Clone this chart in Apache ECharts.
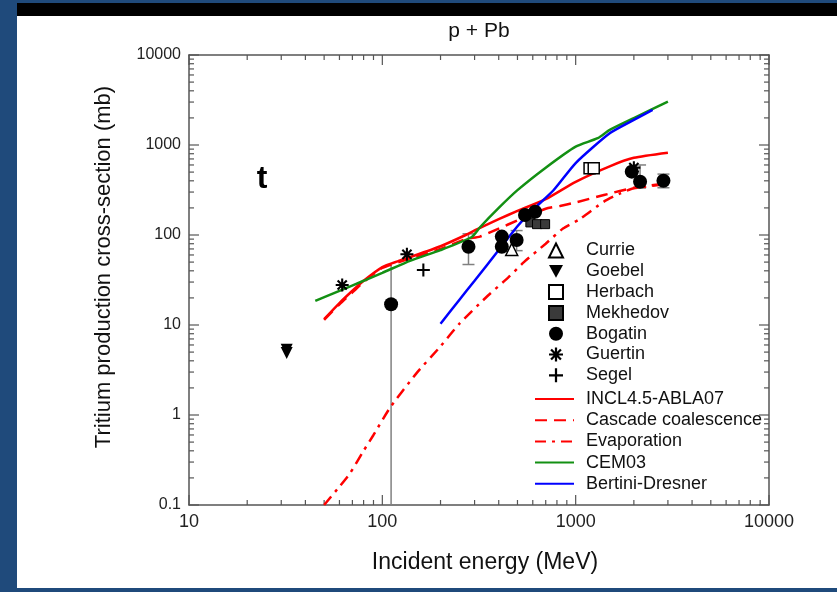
<!DOCTYPE html>
<html>
<head>
<meta charset="utf-8">
<script src="https://cdn.jsdelivr.net/npm/echarts@6/dist/echarts.min.js"></script>
<style>
  html, body { margin: 0; padding: 0; }
  #chart { width: 837px; height: 592px; }
</style>
</head>
<body>
<div id="chart"></div>
<script>
// measured points (energy in MeV, cross-section in mb)
const currieE = [467]
const currieV = [69]
const goebelE = [32, 32]
const goebelV = [5.3, 4.9]
const herbachE = [1180, 1240]
const herbachV = [550, 550]
const mekhedovE = [583, 631, 695]
const mekhedovV = [138, 132, 132]
const bogatinE = [111, 279, 415, 415, 495, 547, 617, 1950, 2153, 2845]
const bogatinV = [17, 74, 96, 74, 88, 167, 181, 506, 391, 401]
const guertinE = [62, 134, 2000]
const guertinV = [27.8, 61, 560]
const segelE = [163]
const segelV = [40.8]

// error bars
const errE = [111, 279, 495, 2153, 2845]
const errLo = [0.1, 47, 67, 333, 335]
const errHi = [47, 103, 112, 600, 475]
const errCap = [0, 1, 1, 1, 1]

// model curves
const inclE = [50, 60, 70, 80, 100, 120, 140, 200, 270, 310, 400, 500, 700, 1000, 1500, 2000, 3000]
const inclV = [11.6, 17.5, 24, 31, 44, 51, 57, 75, 100, 116, 150, 185, 250, 390, 580, 720, 820]
const cascE = [50, 60, 70, 80, 100, 140, 200, 270, 320, 400, 500, 700, 830, 1000, 1400, 2000, 3000]
const cascV = [11.4, 17, 23, 30, 43, 55, 70, 90, 96, 118, 145, 196, 210, 230, 278, 335, 375]
const evapE = [50, 60, 68, 80, 90, 110, 150, 200, 250, 350, 450, 540, 700, 860, 1050, 1400, 1700, 2000, 3000]
const evapV = [0.1, 0.16, 0.225, 0.4, 0.6, 1.22, 2.9, 5.8, 10.3, 21, 34, 50, 80, 118, 150, 235, 290, 330, 370]
const cemE = [45, 60, 80, 100, 140, 200, 290, 320, 400, 500, 700, 1000, 1300, 1500, 2000, 3000]
const cemV = [18.5, 24, 31, 38, 52, 68, 95, 122, 200, 315, 560, 960, 1190, 1470, 1990, 3030]
const bertE = [200, 250, 300, 400, 500, 600, 770, 1000, 1500, 2000, 2500]
const bertV = [10.3, 19, 31, 68, 125, 190, 316, 630, 1350, 1900, 2450]

// tick values
const xMajor = [10, 100, 1000, 10000]
const xMinor = [20, 30, 40, 50, 60, 70, 80, 90, 200, 300, 400, 500, 600, 700, 800, 900, 2000, 3000, 4000, 5000, 6000, 7000, 8000, 9000]
const yMajor = [0.1, 1, 10, 100, 1000, 10000]
const yMinor = [0.2, 0.3, 0.4, 0.5, 0.6, 0.7, 0.8, 0.9, 2, 3, 4, 5, 6, 7, 8, 9, 20, 30, 40, 50, 60, 70, 80, 90,
	200, 300, 400, 500, 600, 700, 800, 900, 2000, 3000, 4000, 5000, 6000, 7000, 8000, 9000]

const pairs = (xs, ys) => xs.map((x, i) => [x, ys[i]])

const FONT = '"Liberation Sans", Arial, sans-serif'
const AXIS = '#555'
const asterisk = 'path://M-1.6,-10L1.6,-10L1.6,10L-1.6,10Z M-10,-1.6L10,-1.6L10,1.6L-10,1.6Z M-5.9,-8.2L8.2,5.9L5.9,8.2L-8.2,-5.9Z M5.9,-8.2L8.2,-5.9L-5.9,8.2L-8.2,5.9Z'
const plus = 'path://M-1.6,-10L1.6,-10L1.6,-1.6L10,-1.6L10,1.6L1.6,1.6L1.6,10L-1.6,10L-1.6,1.6L-10,1.6L-10,-1.6L-1.6,-1.6Z'
const downTri = 'path://M-6,-5L6,-5L0,6Z'

let chart = echarts.init(document.getElementById('chart'))

function axisBase(pos, showLabel, size) {
	return {
		type: 'log',
		logBase: 10,
		position: pos,
		axisLine: { show: true, lineStyle: { color: AXIS, width: 1.5 } },
		axisTick: { show: false },
		axisLabel: {
			show: showLabel,
			fontSize: size || 16,
			color: '#222',
			fontFamily: FONT,
			margin: 8,
			formatter: v => String(v),
		},
		splitLine: { show: false },
	}
}

function scatter(name, xs, ys, symbol, size, style) {
	return {
		name: name,
		type: 'scatter',
		symbol: symbol,
		symbolSize: size,
		itemStyle: Object.assign({ opacity: 1 }, style),
		data: pairs(xs, ys),
		z: 5,
	}
}

function curve(name, xs, ys, color, type) {
	return {
		name: name,
		type: 'line',
		symbol: 'none',
		smooth: 0.2,
		lineStyle: { color: color, width: 2.5, type: type },
		itemStyle: { color: color },
		data: pairs(xs, ys),
		z: 4,
	}
}

// tick marks drawn inside the frame on all four sides
function xTicks(values, len) {
	return {
		type: 'custom',
		silent: true,
		z: 1,
		data: values.map(v => [v, 1]),
		renderItem: function (params, api) {
			let cs = params.coordSys
			let x = api.coord([api.value(0), 1])[0]
			let st = { stroke: AXIS, lineWidth: 1.2 }
			return {
				type: 'group',
				children: [
					{ type: 'line', shape: { x1: x, y1: cs.y + cs.height, x2: x, y2: cs.y + cs.height - len }, style: st },
					{ type: 'line', shape: { x1: x, y1: cs.y, x2: x, y2: cs.y + len }, style: st },
				],
			}
		},
	}
}

function yTicks(values, len) {
	return {
		type: 'custom',
		silent: true,
		z: 1,
		data: values.map(v => [100, v]),
		renderItem: function (params, api) {
			let cs = params.coordSys
			let y = api.coord([100, api.value(1)])[1]
			let st = { stroke: AXIS, lineWidth: 1.2 }
			return {
				type: 'group',
				children: [
					{ type: 'line', shape: { x1: cs.x, y1: y, x2: cs.x + len, y2: y }, style: st },
					{ type: 'line', shape: { x1: cs.x + cs.width, y1: y, x2: cs.x + cs.width - len, y2: y }, style: st },
				],
			}
		},
	}
}

let option = {
	backgroundColor: '#1f4a7b',
	animation: false,
	grid: { left: 189, right: 68, top: 55, bottom: 87 },
	xAxis: [
		Object.assign(axisBase('bottom', true, 18), { min: 10, max: 10000 }),
		Object.assign(axisBase('top', false), { min: 10, max: 10000 }),
	],
	yAxis: [
		Object.assign(axisBase('left', true, 16), { min: 0.1, max: 10000 }),
		Object.assign(axisBase('right', false), { min: 0.1, max: 10000 }),
	],
	legend: [
		{
			data: ['Currie', 'Goebel', 'Herbach', 'Mekhedov', 'Bogatin', 'Guertin', 'Segel'],
			orient: 'vertical',
			left: 548,
			top: 241.5,
			padding: 0,
			itemWidth: 14,
			itemHeight: 14,
			itemGap: 2.8,
			selectedMode: false,
			textStyle: { fontSize: 18, color: '#111', fontFamily: FONT, padding: [0, 0, 0, 18] },
		},
		{
			data: ['INCL4.5-ABLA07', 'Cascade coalescence', 'Evaporation', 'CEM03', 'Bertini-Dresner'],
			orient: 'vertical',
			left: 534,
			top: 390,
			padding: 0,
			itemWidth: 39,
			itemHeight: 14,
			itemGap: 3.2,
			selectedMode: false,
			itemStyle: { color: 'rgba(0,0,0,0)', borderWidth: 0, opacity: 0 },
			textStyle: { fontSize: 18, color: '#111', fontFamily: FONT, padding: [0, 0, 0, 7] },
		},
	],
	graphic: [
		{ type: 'rect', z: -10, shape: { x: 17, y: 16, width: 820, height: 572 }, style: { fill: '#fff' } },
		{ type: 'rect', z: -10, shape: { x: 17, y: 3, width: 820, height: 13 }, style: { fill: '#000' } },
		{ type: 'text', x: 479, y: 31, style: { text: 'p + Pb', fontSize: 21, fontFamily: FONT, fill: '#111', align: 'center', verticalAlign: 'middle' } },
		{ type: 'text', x: 262, y: 179, style: { text: 't', fontSize: 32, fontWeight: 'bold', fontFamily: FONT, fill: '#000', align: 'center', verticalAlign: 'middle' } },
		{ type: 'text', x: 485, y: 563, style: { text: 'Incident energy (MeV)', fontSize: 23, fontFamily: FONT, fill: '#111', align: 'center', verticalAlign: 'middle' } },
		{ type: 'text', x: 104, y: 267, rotation: Math.PI / 2, style: { text: 'Tritium production cross-section (mb)', fontSize: 22, fontFamily: FONT, fill: '#111', align: 'center', verticalAlign: 'middle' } },
	],
	series: [
		xTicks(xMajor, 10),
		xTicks(xMinor, 5),
		yTicks(yMajor, 10),
		yTicks(yMinor, 5),
		{
			type: 'custom',
			name: 'errors',
			silent: true,
			z: 3,
			data: errE.map((e, i) => [e, errLo[i], errHi[i], errCap[i]]),
			renderItem: function (params, api) {
				let lo = api.coord([api.value(0), api.value(1)])
				let hi = api.coord([api.value(0), api.value(2)])
				let st = { stroke: '#808080', lineWidth: 1.5 }
				let kids = [{ type: 'line', shape: { x1: lo[0], y1: lo[1], x2: hi[0], y2: hi[1] }, style: st }]
				if (api.value(3)) {
					kids.push({ type: 'line', shape: { x1: lo[0] - 6, y1: lo[1], x2: lo[0] + 6, y2: lo[1] }, style: st })
					kids.push({ type: 'line', shape: { x1: hi[0] - 6, y1: hi[1], x2: hi[0] + 6, y2: hi[1] }, style: st })
				}
				return { type: 'group', children: kids }
			},
		},
		curve('INCL4.5-ABLA07', inclE, inclV, '#ff0000', 'solid'),
		curve('Cascade coalescence', cascE, cascV, '#ff0000', [12, 7]),
		curve('Evaporation', evapE, evapV, '#ff0000', [11, 6, 3, 6]),
		curve('CEM03', cemE, cemV, '#139013', 'solid'),
		curve('Bertini-Dresner', bertE, bertV, '#0000ff', 'solid'),
		scatter('Currie', currieE, currieV, 'triangle', 12, { color: '#fff', borderColor: '#000', borderWidth: 1.5 }),
		scatter('Goebel', goebelE, goebelV, downTri, 12, { color: '#000' }),
		scatter('Herbach', herbachE, herbachV, 'rect', 11, { color: '#fff', borderColor: '#000', borderWidth: 1.5 }),
		scatter('Mekhedov', mekhedovE, mekhedovV, 'rect', 9, { color: '#3a3a3a', borderColor: '#000', borderWidth: 1 }),
		scatter('Bogatin', bogatinE, bogatinV, 'circle', 14, { color: '#000' }),
		scatter('Guertin', guertinE, guertinV, asterisk, 13, { color: '#000' }),
		scatter('Segel', segelE, segelV, plus, 13, { color: '#000' }),
	],
}

chart.setOption(option)
</script>
</body>
</html>
